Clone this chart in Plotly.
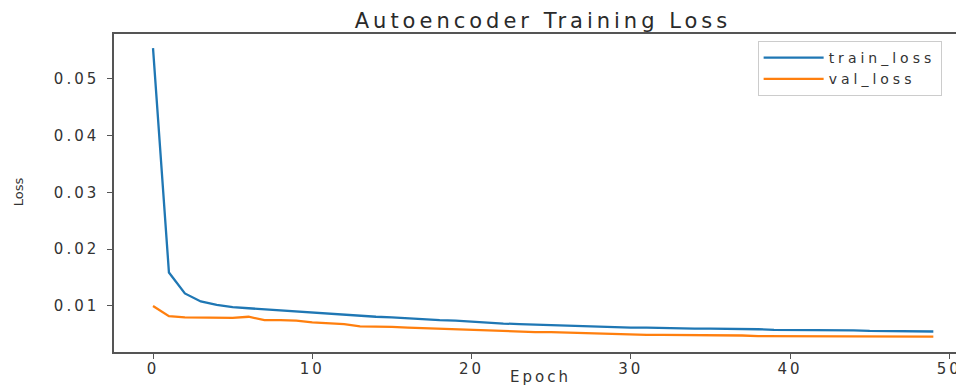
import plotly.graph_objects as go

epochs = list(range(50))
train_loss = [0.0554, 0.0159, 0.0122, 0.0108, 0.0102, 0.0098, 0.0096, 0.0094, 0.0092, 0.0090,
              0.0088, 0.0086, 0.0084, 0.0082, 0.0081, 0.0080, 0.0078, 0.0077, 0.0075, 0.0074,
              0.0072, 0.0070, 0.0069, 0.0068, 0.0067, 0.0066, 0.0066, 0.0065, 0.0064, 0.0063,
              0.0062, 0.0062, 0.0061, 0.0061, 0.0060, 0.0060, 0.0060, 0.0059, 0.0059, 0.0058,
              0.0058, 0.0058, 0.0058, 0.0057, 0.0057, 0.0056, 0.0056, 0.0056, 0.0056, 0.0055]
val_loss = [0.0100, 0.0082, 0.0080, 0.0080, 0.0080, 0.0079, 0.0081, 0.0075, 0.0075, 0.0074,
            0.0071, 0.0069, 0.0068, 0.0064, 0.0064, 0.0063, 0.0062, 0.0061, 0.0060, 0.0059,
            0.0058, 0.0056, 0.0055, 0.0055, 0.0054, 0.0054, 0.0053, 0.0052, 0.0051, 0.0050,
            0.0050, 0.0049, 0.0049, 0.0049, 0.0048, 0.0048, 0.0048, 0.0048, 0.0047, 0.0047,
            0.0047, 0.0047, 0.0047, 0.0047, 0.0046, 0.0046, 0.0046, 0.0046, 0.0046, 0.0046]
x_ticks = [0, 10, 20, 30, 40, 50]
x_tick_labels = ["0", "10", "20", "30", "40", "50"]
y_ticks = [0.01, 0.02, 0.03, 0.04, 0.05]
y_tick_labels = ["0.01", "0.02", "0.03", "0.04", "0.05"]

FONT = "DejaVu Sans"
GRAY = "#333333"


def wide(s, sp=2):
    return f'<span style="letter-spacing:{sp}px">{s}</span>'


fig = go.Figure()
fig.add_trace(go.Scatter(x=epochs, y=train_loss, mode="lines", name=wide("train_loss", 4),
                         line=dict(color="#1f77b4", width=2.3)))
fig.add_trace(go.Scatter(x=epochs, y=val_loss, mode="lines", name=wide("val_loss", 4),
                         line=dict(color="#ff7f0e", width=2.3)))

axis_common = dict(showline=True, linecolor="#555555", linewidth=1.5, mirror=True,
                   ticks="outside", ticklen=5, tickwidth=1.3, tickcolor="#555555",
                   showgrid=False, zeroline=False,
                   tickfont=dict(family=FONT, size=15, color=GRAY))

fig.update_layout(
    width=956, height=380,
    margin=dict(l=106, r=0, t=26, b=36),
    paper_bgcolor="white", plot_bgcolor="white",
    title=dict(text=wide("Autoencoder Training Loss", 4), x=0.5596, xanchor="center",
               y=0.968, yref="container", yanchor="middle",
               font=dict(family=FONT, size=21, color="#2a2a2a")),
    xaxis=dict(range=[-2.45, 50.8], tickmode="array", tickvals=x_ticks,
               ticktext=[wide(t, 3) for t in x_tick_labels], ticklabelstandoff=-3,
               **axis_common),
    yaxis=dict(range=[0.00189, 0.0579], tickmode="array", tickvals=y_ticks,
               ticktext=[wide(t, 3) for t in y_tick_labels], ticklabelstandoff=5,
               **axis_common),
    legend=dict(x=0.759, y=0.978, xanchor="left", yanchor="top", itemwidth=60,
                bgcolor="rgba(255,255,255,0.9)", bordercolor="#cccccc", borderwidth=1,
                font=dict(family=FONT, size=14, color=GRAY)),
    showlegend=True,
    annotations=[
        dict(text="Loss", xref="paper", yref="paper", x=-0.113, y=0.503,
             xanchor="center", yanchor="middle", textangle=-90, showarrow=False,
             font=dict(family=FONT, size=13, color=GRAY)),
        dict(text=wide("Epoch", 3), xref="paper", yref="paper", x=0.5035, y=-0.078,
             xanchor="center", yanchor="middle", showarrow=False,
             font=dict(family=FONT, size=15, color=GRAY)),
    ],
)

fig.write_html("out.html")
